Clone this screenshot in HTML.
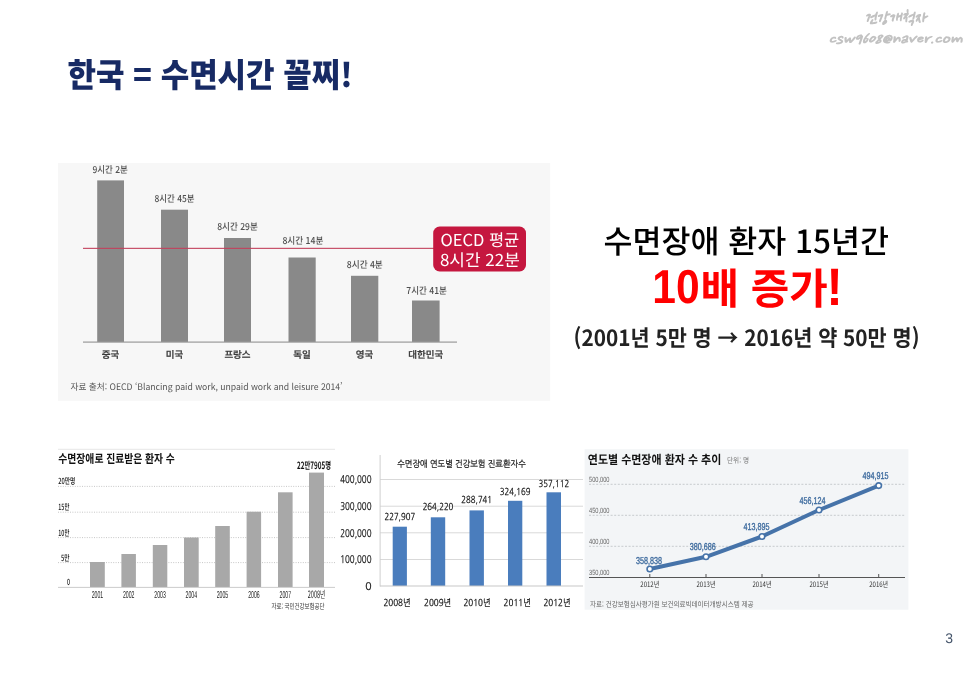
<!DOCTYPE html>
<html lang="ko"><head><meta charset="utf-8"><title>한국 = 수면시간 꼴찌!</title>
<style>
html,body{margin:0;padding:0;background:#fff}
body{width:975px;height:675px;overflow:hidden;position:relative}
svg{position:absolute;left:0;top:0;display:block}
text{font-family:"Liberation Sans","Noto Sans CJK KR","NanumGothic",sans-serif;text-rendering:geometricPrecision}
.kr{font-family:"Noto Sans CJK KR","NanumGothic",sans-serif}
.ng{font-family:"NanumGothic","Noto Sans CJK KR",sans-serif;stroke:#111;stroke-width:.22px}
.pen{font-family:"Nanum Pen","Nanum Pen Script","Liberation Sans","Noto Sans CJK KR",sans-serif}
</style></head><body>
<svg width="975" height="675" viewBox="0 0 975 675">
<text x="926" y="24.6" font-size="21" fill="#c2c2c2" text-anchor="end" font-weight="bold" textLength="62" lengthAdjust="spacingAndGlyphs" class="pen" font-style="italic">건강개척자</text>
<text x="962" y="45" font-size="17" fill="#c2c2c2" text-anchor="end" textLength="134" lengthAdjust="spacingAndGlyphs" class="pen" font-style="italic" font-weight="bold">csw9608@naver.com</text>
<text transform="translate(67.45 86.59) scale(0.9521 1)" font-size="33.09" font-weight="900" textLength="299.52" lengthAdjust="spacingAndGlyphs" fill="#172a64" style='font-family:"Noto Sans CJK KR","NanumGothic",sans-serif'>한국 = 수면시간 꼴찌!</text>
<rect x="58" y="163" width="492.2" height="237.8" fill="#f7f7f7"/>
<rect x="97.2" y="180.4" width="26.8" height="161.6" fill="#898989"/>
<rect x="161" y="209.7" width="27.0" height="132.3" fill="#898989"/>
<rect x="224" y="238" width="27.0" height="104.0" fill="#898989"/>
<rect x="288.5" y="257.5" width="27.2" height="84.5" fill="#898989"/>
<rect x="351" y="275.8" width="27.3" height="66.2" fill="#898989"/>
<rect x="412" y="300.5" width="27.6" height="41.5" fill="#898989"/>
<text x="110.2" y="172.6" font-size="9.5" fill="#505050" text-anchor="middle" font-weight="500" textLength="35.4" lengthAdjust="spacingAndGlyphs" class="kr">9시간 2분</text>
<text x="110.6" y="358" font-size="9.5" fill="#3a3a3a" text-anchor="middle" font-weight="500" class="kr" stroke="#3a3a3a" stroke-width="0.25">중국</text>
<text x="174.5" y="201.9" font-size="9.5" fill="#505050" text-anchor="middle" font-weight="500" textLength="40" lengthAdjust="spacingAndGlyphs" class="kr">8시간 45분</text>
<text x="174.5" y="358" font-size="9.5" fill="#3a3a3a" text-anchor="middle" font-weight="500" class="kr" stroke="#3a3a3a" stroke-width="0.25">미국</text>
<text x="237.5" y="230.2" font-size="9.5" fill="#505050" text-anchor="middle" font-weight="500" textLength="40.6" lengthAdjust="spacingAndGlyphs" class="kr">8시간 29분</text>
<text x="237.5" y="358" font-size="9.5" fill="#3a3a3a" text-anchor="middle" font-weight="500" class="kr" stroke="#3a3a3a" stroke-width="0.25">프랑스</text>
<text x="302.9" y="243.7" font-size="9.5" fill="#505050" text-anchor="middle" font-weight="500" textLength="41" lengthAdjust="spacingAndGlyphs" class="kr">8시간 14분</text>
<text x="302.1" y="358" font-size="9.5" fill="#3a3a3a" text-anchor="middle" font-weight="500" class="kr" stroke="#3a3a3a" stroke-width="0.25">독일</text>
<text x="364.8" y="268.0" font-size="9.5" fill="#505050" text-anchor="middle" font-weight="500" textLength="36" lengthAdjust="spacingAndGlyphs" class="kr">8시간 4분</text>
<text x="364.6" y="358" font-size="9.5" fill="#3a3a3a" text-anchor="middle" font-weight="500" class="kr" stroke="#3a3a3a" stroke-width="0.25">영국</text>
<text x="426.6" y="293.5" font-size="9.5" fill="#505050" text-anchor="middle" font-weight="500" textLength="40.5" lengthAdjust="spacingAndGlyphs" class="kr">7시간 41분</text>
<text x="425.8" y="358" font-size="9.5" fill="#3a3a3a" text-anchor="middle" font-weight="500" class="kr" stroke="#3a3a3a" stroke-width="0.25">대한민국</text>
<rect x="83" y="341.5" width="374" height="1.2" fill="#9a9a9a"/>
<rect x="83" y="247.8" width="352" height="1.1" fill="#c2415c"/>
<rect x="433.2" y="226.6" width="92.8" height="44.9" rx="6.5" ry="6.5" fill="#c5173f"/>
<text transform="translate(440.50 246.00) scale(1.0110 1)" font-size="16.50" font-weight="400" textLength="77.90" lengthAdjust="spacingAndGlyphs" fill="#fff" style='font-family:"Noto Sans CJK KR","NanumGothic",sans-serif'>OECD 평균</text>
<text transform="translate(439.94 265.50) scale(1.0416 1)" font-size="16.50" font-weight="400" textLength="76.71" lengthAdjust="spacingAndGlyphs" fill="#fff" style='font-family:"Noto Sans CJK KR","NanumGothic",sans-serif'>8시간 22분</text>
<text x="70.5" y="390" font-size="9" fill="#555" textLength="272" lengthAdjust="spacingAndGlyphs" class="kr">자료 출처: OECD ‘Blancing paid work, unpaid work and leisure 2014’</text>
<text transform="translate(603.51 253.25) scale(1.0008 1)" font-size="31.87" font-weight="500" textLength="285.22" lengthAdjust="spacingAndGlyphs" fill="#000" style='font-family:"Noto Sans CJK KR","NanumGothic",sans-serif'>수면장애 환자 15년간</text>
<text transform="translate(652.25 302.62) scale(0.8917 1)" font-size="47.75" font-weight="bold" textLength="53.11" lengthAdjust="spacingAndGlyphs" fill="#ff0000" style='font-family:"Liberation Sans","Noto Sans CJK KR",sans-serif'>10</text>
<text transform="translate(700.42 303.59) scale(1.0062 1)" font-size="42.37" font-weight="bold" textLength="126.55" lengthAdjust="spacingAndGlyphs" fill="#ff0000" style='font-family:"Noto Sans CJK KR","NanumGothic",sans-serif'>배 증가</text>
<text transform="translate(826.62 304.90) scale(0.9251 1)" font-size="52.61" font-weight="bold" textLength="17.53" lengthAdjust="spacingAndGlyphs" fill="#ff0000" style='font-family:"Liberation Sans","Noto Sans CJK KR",sans-serif'>!</text>
<text transform="translate(573.59 346.04) scale(0.9528 1)" font-size="22.31" font-weight="bold" textLength="363.06" lengthAdjust="spacingAndGlyphs" fill="#222" style='font-family:"Noto Sans CJK KR","NanumGothic",sans-serif'>(2001년 5만 명 → 2016년 약 50만 명)</text>
<rect x="58" y="448.8" width="277" height="1" fill="#e6e6e6"/>
<text x="58.3" y="462.8" font-size="12" fill="#111" font-weight="bold" textLength="116.5" lengthAdjust="spacingAndGlyphs" class="kr">수면장애로 진료받은 환자 수</text>
<line x1="58" y1="486.4" x2="335" y2="486.4" stroke="#a8a8a8" stroke-width="0.65" stroke-dasharray="1 1.4"/>
<line x1="58" y1="512.2" x2="335" y2="512.2" stroke="#a8a8a8" stroke-width="0.65" stroke-dasharray="1 1.4"/>
<line x1="58" y1="537.6" x2="335" y2="537.6" stroke="#a8a8a8" stroke-width="0.65" stroke-dasharray="1 1.4"/>
<line x1="58" y1="562.6" x2="335" y2="562.6" stroke="#a8a8a8" stroke-width="0.65" stroke-dasharray="1 1.4"/>
<rect x="90" y="562" width="14.8" height="25.0" fill="#a8a8a8"/>
<text x="97.4" y="597.8" font-size="10" fill="#1a1a1a" text-anchor="middle" textLength="11.5" lengthAdjust="spacingAndGlyphs">2001</text>
<rect x="121.4" y="554" width="14.5" height="33.0" fill="#a8a8a8"/>
<text x="128.7" y="597.8" font-size="10" fill="#1a1a1a" text-anchor="middle" textLength="11.5" lengthAdjust="spacingAndGlyphs">2002</text>
<rect x="152.8" y="545" width="14.5" height="42.0" fill="#a8a8a8"/>
<text x="160.1" y="597.8" font-size="10" fill="#1a1a1a" text-anchor="middle" textLength="11.5" lengthAdjust="spacingAndGlyphs">2003</text>
<rect x="184" y="537.5" width="14.7" height="49.5" fill="#a8a8a8"/>
<text x="191.3" y="597.8" font-size="10" fill="#1a1a1a" text-anchor="middle" textLength="11.5" lengthAdjust="spacingAndGlyphs">2004</text>
<rect x="215.2" y="526" width="14.6" height="61.0" fill="#a8a8a8"/>
<text x="222.5" y="597.8" font-size="10" fill="#1a1a1a" text-anchor="middle" textLength="11.5" lengthAdjust="spacingAndGlyphs">2005</text>
<rect x="246.6" y="511.7" width="14.5" height="75.3" fill="#a8a8a8"/>
<text x="253.9" y="597.8" font-size="10" fill="#1a1a1a" text-anchor="middle" textLength="11.5" lengthAdjust="spacingAndGlyphs">2006</text>
<rect x="278" y="492.3" width="14.6" height="94.7" fill="#a8a8a8"/>
<text x="285.3" y="597.8" font-size="10" fill="#1a1a1a" text-anchor="middle" textLength="11.5" lengthAdjust="spacingAndGlyphs">2007</text>
<rect x="309" y="472.6" width="15.0" height="114.4" fill="#a8a8a8"/>
<text x="316.5" y="597.8" font-size="10" fill="#1a1a1a" text-anchor="middle" textLength="17.5" lengthAdjust="spacingAndGlyphs" class="kr">2008년</text>
<rect x="58" y="586.9" width="277" height="0.9" fill="#c6c6c6"/>
<text x="58.3" y="484" font-size="8.5" fill="#111" font-weight="500" textLength="17" lengthAdjust="spacingAndGlyphs" class="kr">20만명</text>
<text x="58.3" y="510" font-size="8.5" fill="#111" font-weight="500" textLength="11" lengthAdjust="spacingAndGlyphs" class="kr">15만</text>
<text x="58.3" y="536" font-size="8.5" fill="#111" font-weight="500" textLength="11" lengthAdjust="spacingAndGlyphs" class="kr">10만</text>
<text x="61" y="561" font-size="8.5" fill="#111" font-weight="500" textLength="8.5" lengthAdjust="spacingAndGlyphs" class="kr">5만</text>
<text x="67" y="585" font-size="8.5" fill="#111" font-weight="500" textLength="3" lengthAdjust="spacingAndGlyphs" class="kr">0</text>
<text x="331" y="468.7" font-size="10" fill="#111" text-anchor="end" font-weight="bold" textLength="34" lengthAdjust="spacingAndGlyphs" class="kr">22만7905명</text>
<text x="324.5" y="609" font-size="7.5" fill="#333" text-anchor="end" textLength="53" lengthAdjust="spacingAndGlyphs" class="kr">자료: 국민건강보험공단</text>
<rect x="380" y="479.0" width="203" height="1" fill="#d9d9d9"/>
<rect x="380" y="505.7" width="203" height="1" fill="#d9d9d9"/>
<rect x="380" y="532.3" width="203" height="1" fill="#d9d9d9"/>
<rect x="380" y="559.0" width="203" height="1" fill="#d9d9d9"/>
<rect x="379.6" y="455" width="1" height="131.5" fill="#d0d0d0"/>
<rect x="392.7" y="526.7" width="14.2" height="59.3" fill="#4a7dbd"/>
<rect x="430.8" y="517.3" width="14.4" height="68.7" fill="#4a7dbd"/>
<rect x="469.5" y="510.4" width="14.4" height="75.6" fill="#4a7dbd"/>
<rect x="508" y="500.8" width="14.3" height="85.2" fill="#4a7dbd"/>
<rect x="546.5" y="492.3" width="14.5" height="93.7" fill="#4a7dbd"/>
<rect x="380" y="585.5" width="203" height="1" fill="#c8c8c8"/>
<text x="399.8" y="519.9" font-size="9.5" fill="#111" text-anchor="middle" textLength="30.7" lengthAdjust="spacingAndGlyphs" class="ng">227,907</text>
<text x="397" y="605.5" font-size="9.5" fill="#111" text-anchor="middle" textLength="27.2" lengthAdjust="spacingAndGlyphs" class="ng">2008년</text>
<text x="438.0" y="510.1" font-size="9.5" fill="#111" text-anchor="middle" textLength="30.7" lengthAdjust="spacingAndGlyphs" class="ng">264,220</text>
<text x="437.6" y="605.5" font-size="9.5" fill="#111" text-anchor="middle" textLength="27.2" lengthAdjust="spacingAndGlyphs" class="ng">2009년</text>
<text x="476.7" y="503.4" font-size="9.5" fill="#111" text-anchor="middle" textLength="30.7" lengthAdjust="spacingAndGlyphs" class="ng">288,741</text>
<text x="477" y="605.5" font-size="9.5" fill="#111" text-anchor="middle" textLength="27.2" lengthAdjust="spacingAndGlyphs" class="ng">2010년</text>
<text x="515.1" y="494.8" font-size="9.5" fill="#111" text-anchor="middle" textLength="30.7" lengthAdjust="spacingAndGlyphs" class="ng">324,169</text>
<text x="517.2" y="605.5" font-size="9.5" fill="#111" text-anchor="middle" textLength="27.2" lengthAdjust="spacingAndGlyphs" class="ng">2011년</text>
<text x="553.8" y="487.3" font-size="9.5" fill="#111" text-anchor="middle" textLength="30.7" lengthAdjust="spacingAndGlyphs" class="ng">357,112</text>
<text x="557" y="605.5" font-size="9.5" fill="#111" text-anchor="middle" textLength="27.2" lengthAdjust="spacingAndGlyphs" class="ng">2012년</text>
<text x="371.5" y="483.3" font-size="10.5" fill="#111" text-anchor="end" textLength="31.3" lengthAdjust="spacingAndGlyphs" class="ng">400,000</text>
<text x="371.5" y="510" font-size="10.5" fill="#111" text-anchor="end" textLength="31.3" lengthAdjust="spacingAndGlyphs" class="ng">300,000</text>
<text x="371.5" y="536.6" font-size="10.5" fill="#111" text-anchor="end" textLength="31.3" lengthAdjust="spacingAndGlyphs" class="ng">200,000</text>
<text x="371.5" y="563.3" font-size="10.5" fill="#111" text-anchor="end" textLength="31.3" lengthAdjust="spacingAndGlyphs" class="ng">100,000</text>
<text x="371.5" y="589.8" font-size="10.5" fill="#111" text-anchor="end" class="ng">0</text>
<text x="461.5" y="467" font-size="9" fill="#111" text-anchor="middle" textLength="128.5" lengthAdjust="spacingAndGlyphs" class="ng">수면장애 연도별 건강보험 진료환자수</text>
<rect x="584.6" y="449.2" width="323.8" height="160.5" fill="#f3f5f7"/>
<text x="587.8" y="463.8" font-size="12.2" fill="#111" font-weight="bold" textLength="133.5" lengthAdjust="spacingAndGlyphs" class="kr">연도별 수면장애 환자 수 추이</text>
<text x="727" y="463" font-size="7.5" fill="#777" textLength="22" lengthAdjust="spacingAndGlyphs" class="kr">단위: 명</text>
<line x1="589" y1="484.3" x2="905" y2="484.3" stroke="#c2c6ca" stroke-width="0.9" stroke-dasharray="2 1.6"/>
<text x="589" y="482.1" font-size="7.5" fill="#666" textLength="20.5" lengthAdjust="spacingAndGlyphs">500,000</text>
<line x1="589" y1="515.3" x2="905" y2="515.3" stroke="#c2c6ca" stroke-width="0.9" stroke-dasharray="2 1.6"/>
<text x="589" y="513.1" font-size="7.5" fill="#666" textLength="20.5" lengthAdjust="spacingAndGlyphs">450,000</text>
<line x1="589" y1="546.3" x2="905" y2="546.3" stroke="#c2c6ca" stroke-width="0.9" stroke-dasharray="2 1.6"/>
<text x="589" y="544.1" font-size="7.5" fill="#666" textLength="20.5" lengthAdjust="spacingAndGlyphs">400,000</text>
<text x="589" y="575" font-size="7.5" fill="#666" textLength="20.5" lengthAdjust="spacingAndGlyphs">350,000</text>
<rect x="589" y="577" width="316" height="1" fill="#555"/>
<rect x="649.3" y="574" width="1" height="3.5" fill="#555"/>
<text x="649.8" y="587" font-size="7.5" fill="#333" text-anchor="middle" textLength="19" lengthAdjust="spacingAndGlyphs" class="kr">2012년</text>
<rect x="705.5" y="574" width="1" height="3.5" fill="#555"/>
<text x="706.0" y="587" font-size="7.5" fill="#333" text-anchor="middle" textLength="19" lengthAdjust="spacingAndGlyphs" class="kr">2013년</text>
<rect x="761.5" y="574" width="1" height="3.5" fill="#555"/>
<text x="762.0" y="587" font-size="7.5" fill="#333" text-anchor="middle" textLength="19" lengthAdjust="spacingAndGlyphs" class="kr">2014년</text>
<rect x="818.5" y="574" width="1" height="3.5" fill="#555"/>
<text x="819.0" y="587" font-size="7.5" fill="#333" text-anchor="middle" textLength="19" lengthAdjust="spacingAndGlyphs" class="kr">2015년</text>
<rect x="878.2" y="574" width="1" height="3.5" fill="#555"/>
<text x="878.7" y="587" font-size="7.5" fill="#333" text-anchor="middle" textLength="19" lengthAdjust="spacingAndGlyphs" class="kr">2016년</text>
<polyline fill="none" stroke="#4673a9" stroke-width="4" stroke-linejoin="round" stroke-linecap="round" points="649.8,569 706,556.8 762,536.5 819,510 878.7,485.6"/>
<circle cx="649.8" cy="569" r="2.75" fill="#fff" stroke="#4673a9" stroke-width="1.6"/>
<text x="649" y="564" font-size="10" fill="#3f6c9f" text-anchor="middle" textLength="26" lengthAdjust="spacingAndGlyphs" stroke="#3f6c9f" stroke-width="0.35">358,838</text>
<circle cx="706" cy="556.8" r="2.75" fill="#fff" stroke="#4673a9" stroke-width="1.6"/>
<text x="702.8" y="549.9" font-size="10" fill="#3f6c9f" text-anchor="middle" textLength="26" lengthAdjust="spacingAndGlyphs" stroke="#3f6c9f" stroke-width="0.35">380,686</text>
<circle cx="762" cy="536.5" r="2.75" fill="#fff" stroke="#4673a9" stroke-width="1.6"/>
<text x="756.5" y="530.3" font-size="10" fill="#3f6c9f" text-anchor="middle" textLength="26" lengthAdjust="spacingAndGlyphs" stroke="#3f6c9f" stroke-width="0.35">413,895</text>
<circle cx="819" cy="510" r="2.75" fill="#fff" stroke="#4673a9" stroke-width="1.6"/>
<text x="812.4" y="503.6" font-size="10" fill="#3f6c9f" text-anchor="middle" textLength="26" lengthAdjust="spacingAndGlyphs" stroke="#3f6c9f" stroke-width="0.35">456,124</text>
<circle cx="878.7" cy="485.6" r="2.75" fill="#fff" stroke="#4673a9" stroke-width="1.6"/>
<text x="875.5" y="479" font-size="10" fill="#3f6c9f" text-anchor="middle" textLength="26" lengthAdjust="spacingAndGlyphs" stroke="#3f6c9f" stroke-width="0.35">494,915</text>
<text x="590" y="606.5" font-size="7.5" fill="#666" textLength="163.5" lengthAdjust="spacingAndGlyphs" class="kr">자료: 건강보험심사평가원 보건의료빅데이터개방시스템 제공</text>
<text x="945.3" y="642.8" font-size="14" fill="#44546a">3</text>
</svg>
</body></html>
